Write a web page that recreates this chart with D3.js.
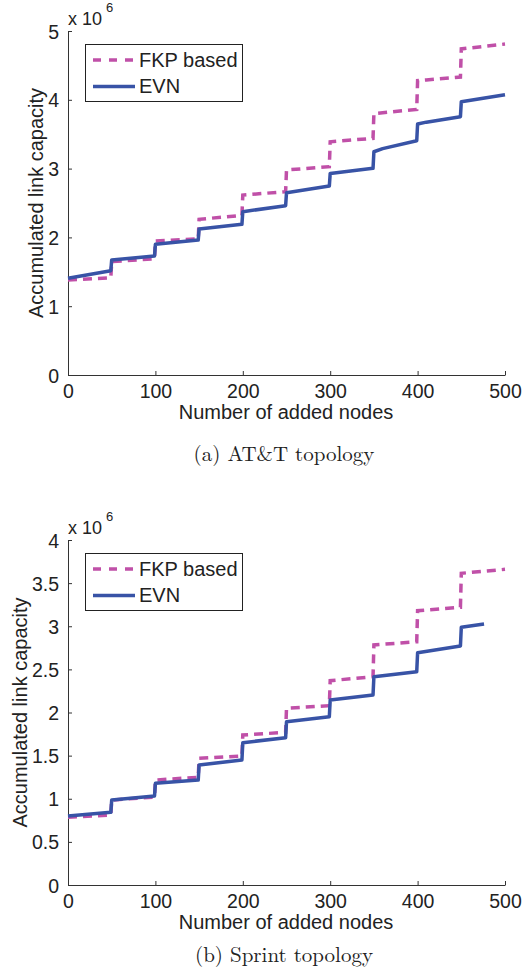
<!DOCTYPE html>
<html>
<head>
<meta charset="utf-8">
<script src="https://cdn.jsdelivr.net/npm/d3@7/dist/d3.min.js"></script>
<style>
  html, body { margin: 0; padding: 0; background: #fff; }
  svg { display: block; }
  text { font-family: "Liberation Sans", Arial, Helvetica, sans-serif; fill: #222; }
  .caption { font-family: "Latin Modern Roman", "CMU Serif", "DejaVu Serif", "Liberation Serif", serif; }
</style>
</head>
<body>
<svg id="fig" width="526" height="975"></svg>
<script>
// Accumulated link capacity (x 10^6) versus number of added nodes.
// Nodes are added in batches of 50, so each series jumps at every multiple of 50.

// (a) AT&T topology
const attNodes = [0, 49, 50, 99, 100, 149, 150, 199, 200, 249, 250, 299, 300, 349, 350, 360, 399, 400, 410, 449, 450, 500];
const attFkp   = [1.38, 1.414, 1.647, 1.69, 1.948, 1.98, 2.263, 2.32, 2.616, 2.664, 2.98, 3.028, 3.39, 3.44, 3.80, 3.812, 3.86, 4.28, 4.289, 4.33, 4.74, 4.81];
const attEvn   = [1.405, 1.516, 1.672, 1.73, 1.90, 1.962, 2.122, 2.19, 2.374, 2.46, 2.65, 2.747, 2.93, 3.004, 3.245, 3.29, 3.405, 3.648, 3.675, 3.754, 3.972, 4.074];
const attYTicks = [0, 1, 2, 3, 4, 5];

// (b) Sprint topology
const sprintFkpNodes = [0, 49, 50, 99, 100, 149, 150, 199, 200, 249, 250, 299, 300, 349, 350, 399, 400, 449, 450, 500];
const sprintFkp      = [0.785, 0.81, 0.985, 1.02, 1.217, 1.249, 1.469, 1.496, 1.739, 1.77, 2.049, 2.079, 2.369, 2.415, 2.783, 2.82, 3.18, 3.22, 3.614, 3.66];
const sprintEvnNodes = [0, 49, 50, 99, 100, 149, 150, 199, 200, 249, 250, 299, 300, 349, 350, 399, 400, 449, 450, 476];
const sprintEvn      = [0.80, 0.843, 0.985, 1.032, 1.179, 1.217, 1.391, 1.449, 1.65, 1.708, 1.893, 1.951, 2.145, 2.203, 2.415, 2.473, 2.693, 2.771, 2.988, 3.026];
const sprintYTicks = [0, 0.5, 1, 1.5, 2, 2.5, 3, 3.5, 4];

const xTicks = [0, 100, 200, 300, 400, 500];
const seriesNames = ["FKP based", "EVN"];
const colors = { fkp: "#c050a8", evn: "#3853a6" };

const svg = d3.select("#fig");

function panel(cfg) {
  const x = d3.scaleLinear().domain([0, 500]).range([68, 505]);
  const y = d3.scaleLinear().domain([0, cfg.yMax]).range([cfg.bottom, cfg.top]);
  const g = svg.append("g");

  // axes: left and bottom only, ticks pointing inward
  const xAxis = d3.axisBottom(x).tickValues(xTicks).tickSizeInner(-4).tickSizeOuter(0).tickPadding(9);
  const gx = g.append("g").attr("transform", `translate(0,${cfg.bottom})`).call(xAxis);
  const yAxis = d3.axisLeft(y).tickValues(cfg.yTicks).tickSizeInner(-4).tickSizeOuter(0).tickPadding(9)
    .tickFormat(d3.format("~g"));
  const gy = g.append("g").attr("transform", "translate(68,0)").call(yAxis);
  [gx, gy].forEach(a => {
    a.select(".domain").attr("stroke", "#333").attr("stroke-width", 1);
    a.selectAll(".tick line").attr("stroke", "#333").attr("stroke-width", 1);
    a.selectAll(".tick text").style("font-size", "19.5px").attr("fill", "#222")
      .style("font-family", "'Liberation Sans', Arial, sans-serif");
  });
  gy.selectAll(".tick text").attr("dy", "0.36em");

  // exponent label
  const ex = g.append("text").attr("x", 68).attr("y", cfg.top - 6).style("font-size", "18px");
  ex.append("tspan").text("x 10");
  ex.append("tspan").attr("dy", -13).attr("dx", 4).style("font-size", "13px").text("6");

  // axis titles
  g.append("text").attr("x", 286).attr("y", cfg.bottom + 44).attr("text-anchor", "middle")
    .style("font-size", "20px").text("Number of added nodes");
  g.append("text").attr("transform", `translate(${cfg.yTitleX},${(cfg.top + cfg.bottom) / 2}) rotate(-90)`)
    .attr("text-anchor", "middle").style("font-size", "20px").text("Accumulated link capacity");

  // series
  const line = d3.line().x(d => x(d[0])).y(d => y(d[1]));
  const fkpData = d3.zip(cfg.fkpNodes, cfg.fkp);
  const evnData = d3.zip(cfg.evnNodes, cfg.evn);
  g.append("path").datum(fkpData).attr("d", line).attr("fill", "none")
    .attr("stroke", colors.fkp).attr("stroke-width", 3.5).attr("stroke-dasharray", "9,6");
  g.append("path").datum(evnData).attr("d", line).attr("fill", "none")
    .attr("stroke", colors.evn).attr("stroke-width", 3.5).attr("stroke-linejoin", "round");

  // legend
  const lt = cfg.top + 13;
  const lg = g.append("g");
  lg.append("rect").attr("x", 85.5).attr("y", lt + 0.5).attr("width", 157).attr("height", 57)
    .attr("fill", "#fff").attr("stroke", "#222").attr("stroke-width", 1);
  const entries = [
    { name: seriesNames[0], color: colors.fkp, dash: "8,8" },
    { name: seriesNames[1], color: colors.evn, dash: null }
  ];
  entries.forEach((e, i) => {
    const ly = lt + 16 + i * 26.5;
    lg.append("line").attr("x1", 93).attr("x2", 135).attr("y1", ly).attr("y2", ly)
      .attr("stroke", e.color).attr("stroke-width", 3.5).attr("stroke-dasharray", e.dash);
    lg.append("text").attr("x", 139).attr("y", lt + 23 + i * 26).style("font-size", "20px").text(e.name);
  });

  // caption
  svg.append("text").attr("class", "caption").attr("x", 284).attr("y", cfg.captionY)
    .attr("text-anchor", "middle").style("font-size", "21px").text(cfg.caption);
}

panel({
  top: 31, bottom: 375, yMax: 5, yTicks: attYTicks, yTitleX: 43,
  fkpNodes: attNodes, fkp: attFkp, evnNodes: attNodes, evn: attEvn,
  caption: "(a) AT&T topology", captionY: 461
});
panel({
  top: 540, bottom: 885, yMax: 4, yTicks: sprintYTicks, yTitleX: 27,
  fkpNodes: sprintFkpNodes, fkp: sprintFkp, evnNodes: sprintEvnNodes, evn: sprintEvn,
  caption: "(b) Sprint topology", captionY: 962
});
</script>
</body>
</html>
